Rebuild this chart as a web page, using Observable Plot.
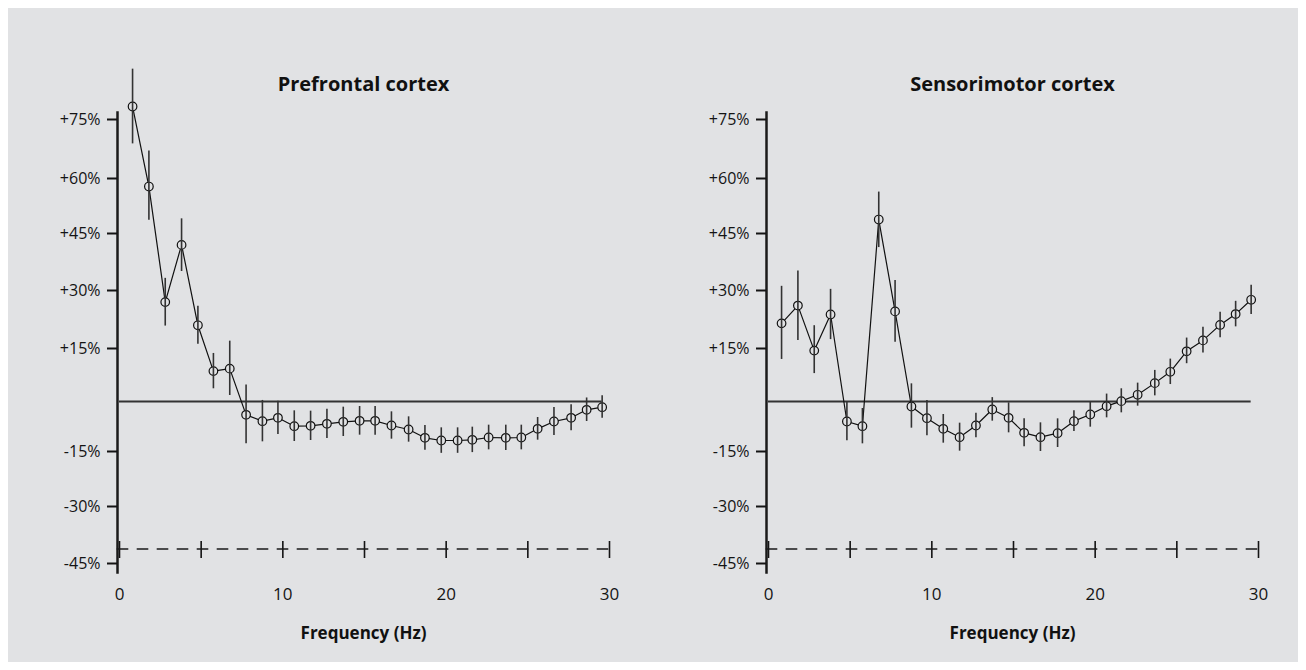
<!DOCTYPE html>
<html><head><meta charset="utf-8">
<script src="https://cdn.jsdelivr.net/npm/d3@7"></script>
<script src="https://cdn.jsdelivr.net/npm/@observablehq/plot@0.6"></script>
<style>
html,body{margin:0;padding:0;background:#fff;}
#panel{position:absolute;left:8px;top:8px;width:1290px;height:654px;background:#e1e2e4;}
.chart{position:absolute;top:0;}
</style></head><body>
<div id="panel"></div>
<div id="c1" class="chart" style="left:0px"></div>
<div id="c2" class="chart" style="left:649px"></div>
<script>
const frequencies = [0.8,1.8,2.8,3.8,4.8,5.75,6.75,7.75,8.75,9.7,10.7,11.7,12.7,13.7,14.7,15.65,16.65,17.7,18.7,19.7,20.7,21.6,22.6,23.65,24.6,25.6,26.6,27.65,28.6,29.55];
const prefrontalValues = [78.3,57.8,27.0,42.0,21.0,8.6,9.3,-4.0,-5.9,-4.9,-7.4,-7.3,-6.7,-6.1,-5.8,-5.8,-7.2,-8.4,-10.9,-11.7,-11.7,-11.5,-10.8,-10.9,-10.8,-8.2,-6.0,-4.9,-2.5,-1.7];
const prefrontalErrors = [9.5,9.2,6.2,7.0,4.9,5.0,7.6,8.7,6.2,5.0,4.6,4.4,4.4,4.4,4.3,4.3,4.1,3.8,3.7,3.8,3.8,3.8,3.7,3.8,3.7,3.4,4.2,3.9,3.5,3.3];
const sensorimotorValues = [21.5,26.1,14.4,23.8,-6.0,-7.4,48.8,24.6,-1.5,-5.0,-8.2,-10.7,-7.2,-2.4,-4.9,-9.4,-10.7,-9.5,-5.9,-3.9,-1.4,0.1,1.9,5.2,8.4,14.2,17.1,21.1,23.9,27.6];
const sensorimotorErrors = [9.6,9.0,6.5,6.5,5.8,5.3,7.5,8.0,6.5,5.3,4.3,4.2,3.7,3.5,4.5,4.2,4.3,4.3,3.1,3.8,3.5,3.5,3.3,3.6,3.6,3.5,3.4,3.3,3.3,3.8];
const yTicks = [-45,-30,-15,15,30,45,60,75];
const xLabelTicks = [0,10,20,30];
const xMinorTicks = [0,5,10,15,20,25,30];
const titles = ["Prefrontal cortex","Sensorimotor cortex"];
const xLabel = "Frequency (Hz)";

function chart(title, values, errors) {
  const data = frequencies.map((f,i)=>({f, v: values[i], lo: values[i]-errors[i], hi: values[i]+errors[i]}));
  return Plot.plot({
    width: 653, height: 670,
    marginLeft: 117, marginRight: 44, marginTop: 112, marginBottom: 98,
    style: {background: "transparent", fontFamily: "'Open Sans', sans-serif", color: "#141414", overflow: "visible"},
    x: {domain: [0,30], range: [119,609]},
    y: {type: "linear", domain: [-45,-30,-15,0,15,30,45,60,75], range: [563,506,451,401,348,290,233,178,119]},
    marks: [
      Plot.frame({anchor: "left", stroke: "#1a1a1a", strokeWidth: 2.5}),
      Plot.axisY({ticks: yTicks, tickSize: 10, tickPadding: 7, strokeWidth: 2, fontSize: 16, label: null,
        tickFormat: d => (d > 0 ? "+" : "") + d + "%"}),
      Plot.axisX({ticks: xMinorTicks, tickSize: 17, dy: -31, tickFormat: () => "", label: null, strokeWidth: 1.6}),
      Plot.frame({anchor: "bottom", dy: -23.5, strokeDasharray: "10,10", strokeWidth: 1.6, stroke: "#1a1a1a"}),
      Plot.axisX({ticks: xLabelTicks, tickSize: 0, tickPadding: 15, fontSize: 17, label: null}),
      Plot.ruleY([0], {x1: 0, x2: frequencies[frequencies.length-1], stroke: "#333", strokeWidth: 2}),
      Plot.line(data, {x: "f", y: "v", stroke: "#111", strokeWidth: 1.2}),
      Plot.dot(data, {x: "f", y: "v", r: 4.3, fill: "#e1e2e4", stroke: "#111", strokeWidth: 1.2}),
      Plot.ruleX(data, {x: "f", y1: "lo", y2: "hi", stroke: "#333", strokeWidth: 1.6}),
      Plot.text([title], {frameAnchor: "top", lineAnchor: "middle", dy: -28, fontSize: 20, fontWeight: "bold", fill: "#111"}),
      Plot.text([xLabel], {frameAnchor: "bottom", lineAnchor: "middle", dy: 61, fontSize: 17, fontWeight: "bold", fill: "#111"})
    ]
  });
}
document.getElementById("c1").append(chart(titles[0], prefrontalValues, prefrontalErrors));
document.getElementById("c2").append(chart(titles[1], sensorimotorValues, sensorimotorErrors));
</script>
</body></html>
